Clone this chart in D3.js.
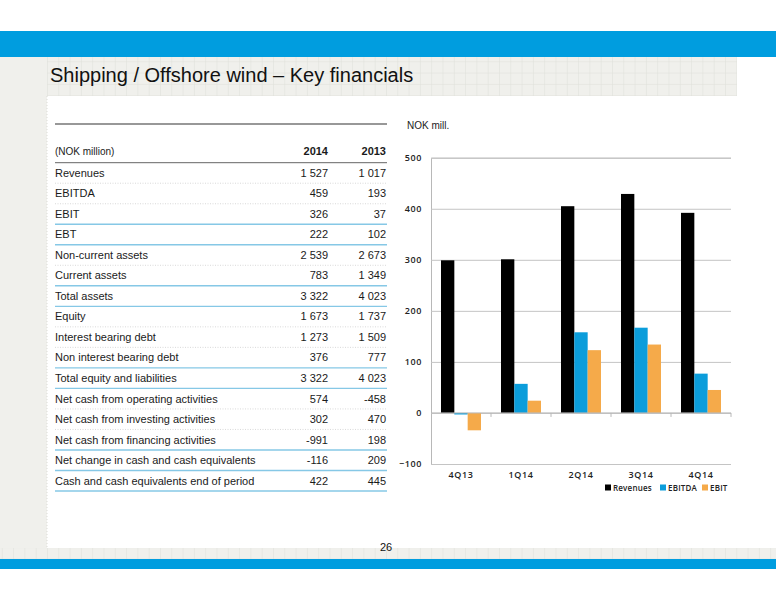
<!DOCTYPE html>
<html lang="en">
<head>
    <meta charset="UTF-8">
    <script src="https://cdn.jsdelivr.net/npm/d3@7"></script>
    <title>Shipping / Offshore wind - Key financials</title>
    <style>
        body {
            margin: 0;
            padding: 0;
            background: white;
            font-family: "Liberation Sans", Arial, sans-serif;
        }
        svg { display: block; }
        .tbl text { fill: #1a1a1a; font-size: 11px; }
        .chart text { font-family: "Open Sans", sans-serif; font-size: 9px; font-weight: 600; fill: #222; }
    </style>
</head>

<body>
    <div id="page"></div>

    <script>
        // ---- table data ----
        const rowLabels = [
            "Revenues", "EBITDA", "EBIT", "EBT",
            "Non-current assets", "Current assets", "Total assets",
            "Equity", "Interest bearing debt", "Non interest bearing debt",
            "Total equity and liabilities",
            "Net cash from operating activities", "Net cash from investing activities",
            "Net cash from financing activities",
            "Net change in cash and cash equivalents", "Cash and cash equivalents end of period"
        ];
        const values2014 = [1527, 459, 326, 222, 2539, 783, 3322, 1673, 1273, 376, 3322, 574, 302, -991, -116, 422];
        const values2013 = [1017, 193, 37, 102, 2673, 1349, 4023, 1737, 1509, 777, 4023, -458, 470, 198, 209, 445];
        // rows sharing a group id are split by dotted lines, groups by blue lines
        const rowGroups = [0, 0, 0, 1, 2, 2, 3, 4, 4, 4, 5, 6, 6, 6, 7, 8];
        const yearHeaders = ["2014", "2013"];

        // ---- chart data ----
        const categories = ["4Q13", "1Q14", "2Q14", "3Q14", "4Q14"];
        const seriesNames = ["Revenues", "EBITDA", "EBIT"];
        const revenues = [299, 301, 405, 429, 392];
        const ebitda = [-3, 57, 158, 167, 77];
        const ebit = [-34, 24, 123, 134, 45];
        const yTicks = [-100, 0, 100, 200, 300, 400, 500];
        const seriesColors = ["#000000", "#0b9ddb", "#f5aa4a"];

        const W = 776, H = 600;
        const svg = d3.select("#page").append("svg")
            .attr("width", W)
            .attr("height", H);

        // ---- slide frame ----
        const defs = svg.append("defs");
        const grid = defs.append("pattern")
            .attr("id", "grid")
            .attr("patternUnits", "userSpaceOnUse")
            .attr("x", 47).attr("y", 50)
            .attr("width", 11.3).attr("height", 11.3);
        grid.append("rect").attr("width", 11.3).attr("height", 11.3).attr("fill", "#f0f0ec");
        grid.append("path").attr("d", "M0,0H11.3M0,0V11.3")
            .attr("stroke", "#dedfd9").attr("stroke-width", 1).attr("fill", "none");

        svg.append("rect").attr("x", 0).attr("y", 57).attr("width", 47).attr("height", 491).attr("fill", "#f0f0ec");
        svg.append("line").attr("x1", 47).attr("x2", 47).attr("y1", 96).attr("y2", 548)
            .attr("stroke", "#dcdcd6").attr("stroke-dasharray", "1,2");
        svg.append("rect").attr("x", 47).attr("y", 57).attr("width", 690).attr("height", 39).attr("fill", "url(#grid)");
        svg.append("rect").attr("x", 0).attr("y", 548).attr("width", W).attr("height", 11).attr("fill", "url(#grid)");
        svg.append("rect").attr("x", 0).attr("y", 31).attr("width", W).attr("height", 26).attr("fill", "#009ddf");
        svg.append("rect").attr("x", 0).attr("y", 559).attr("width", W).attr("height", 10).attr("fill", "#009ddf");

        svg.append("text")
            .attr("x", 50).attr("y", 82)
            .style("font-size", "20px")
            .style("fill", "#111")
            .text("Shipping / Offshore wind \u2013 Key financials");

        svg.append("text")
            .attr("x", 386).attr("y", 551)
            .attr("text-anchor", "middle")
            .style("font-size", "11px")
            .style("fill", "#111")
            .text("26");

        // ---- table ----
        const fmt = d3.formatLocale({ decimal: ",", thousands: " ", grouping: [3], currency: ["", ""], minus: "-" }).format(",d");
        const tbl = svg.append("g").attr("class", "tbl");
        const tx0 = 55, tx1 = 387;
        const colX = d3.scaleOrdinal().domain(yearHeaders).range([328, 386]);
        const rowY = d3.scaleBand().domain(d3.range(rowLabels.length)).range([162.7, 491]);

        tbl.append("line").attr("x1", tx0).attr("x2", tx1).attr("y1", 124).attr("y2", 124)
            .attr("stroke", "#333").attr("stroke-width", 1.2);
        tbl.append("text").attr("x", tx0).attr("y", 155).style("font-size", "10px").text("(NOK million)");
        tbl.selectAll(".yr").data(yearHeaders).enter().append("text")
            .attr("class", "yr")
            .attr("x", d => colX(d)).attr("y", 155)
            .attr("text-anchor", "end")
            .style("font-weight", "bold")
            .text(d => d);
        tbl.append("line").attr("x1", tx0).attr("x2", tx1).attr("y1", 162.7).attr("y2", 162.7)
            .attr("stroke", "#666").attr("stroke-width", 1);

        const rows = tbl.selectAll(".row").data(rowLabels).enter().append("g")
            .attr("class", "row")
            .attr("transform", (d, i) => `translate(0,${rowY(i)})`);
        const mid = rowY.bandwidth() / 2;
        rows.append("text").attr("x", tx0).attr("y", mid).attr("dy", "0.35em").text(d => d);
        rows.append("text").attr("x", colX("2014")).attr("y", mid).attr("dy", "0.35em")
            .attr("text-anchor", "end").text((d, i) => fmt(values2014[i]));
        rows.append("text").attr("x", colX("2013")).attr("y", mid).attr("dy", "0.35em")
            .attr("text-anchor", "end").text((d, i) => fmt(values2013[i]));
        rows.append("line")
            .attr("x1", tx0).attr("x2", tx1)
            .attr("y1", rowY.bandwidth()).attr("y2", rowY.bandwidth())
            .each(function (d, i) {
                const last = i === rowGroups.length - 1 || rowGroups[i + 1] !== rowGroups[i];
                d3.select(this)
                    .attr("stroke", last ? "#86c8e6" : "#cfcfcf")
                    .attr("stroke-width", last ? 1.4 : 0.8)
                    .attr("stroke-dasharray", last ? null : "1,1.5");
            });

        // ---- bar chart ----
        const chart = svg.append("g").attr("class", "chart");
        const x = d3.scaleBand().domain(categories).range([431, 731]).paddingInner(1 / 3).paddingOuter(1 / 6);
        const xs = d3.scaleBand().domain(seriesNames).range([0, x.bandwidth()]);
        const y = d3.scaleLinear().domain([-100, 500]).range([464, 157.7]);
        const color = d3.scaleOrdinal().domain(seriesNames).range(seriesColors);

        chart.append("text")
            .attr("x", 407).attr("y", 129)
            .style("font-family", "'Liberation Sans', Arial, sans-serif")
            .style("font-weight", "normal")
            .style("font-size", "10px")
            .text("NOK mill.");

        const yAxis = chart.append("g")
            .attr("transform", "translate(431,0)")
            .call(d3.axisLeft(y).tickValues(yTicks).tickSize(-300).tickPadding(9).tickFormat(d3.format("d")));
        yAxis.select(".domain").attr("stroke", "#b8b8b8");
        yAxis.selectAll(".tick line").attr("stroke", "#c4c4c4");
        yAxis.selectAll(".tick text").style("letter-spacing", "0.6px");

        const xAxis = chart.append("g")
            .attr("transform", "translate(0,464)")
            .call(d3.axisBottom(x).tickSize(0).tickPadding(8));
        xAxis.select(".domain").remove();
        xAxis.selectAll(".tick text").style("letter-spacing", "0.6px");

        const seriesData = categories.map((c, i) => ({ cat: c, vals: [revenues[i], ebitda[i], ebit[i]] }));
        const groups = chart.selectAll(".cat").data(seriesData).enter().append("g")
            .attr("class", "cat")
            .attr("transform", d => `translate(${x(d.cat)},0)`);
        groups.selectAll("rect")
            .data(d => d.vals.map((v, k) => ({ name: seriesNames[k], v })))
            .enter().append("rect")
            .attr("x", d => xs(d.name))
            .attr("width", xs.bandwidth())
            .attr("y", d => y(Math.max(0, d.v)))
            .attr("height", d => Math.abs(y(d.v) - y(0)))
            .attr("fill", d => color(d.name));

        // zero axis with ticks between categories
        chart.append("line")
            .attr("x1", 431).attr("x2", 731).attr("y1", y(0)).attr("y2", y(0))
            .attr("stroke", "#b8b8b8");
        const bounds = categories.map(c => x(c) + x.bandwidth() + x.step() * x.paddingInner() / 2);
        chart.selectAll(".xtick").data(bounds).enter().append("line")
            .attr("class", "xtick")
            .attr("x1", d => d).attr("x2", d => d)
            .attr("y1", y(0)).attr("y2", y(0) + 4)
            .attr("stroke", "#b8b8b8");

        // legend
        const legendX = [605, 660, 702];
        const legend = chart.selectAll(".lg").data(seriesNames).enter().append("g")
            .attr("class", "lg")
            .attr("transform", (d, i) => `translate(${legendX[i]},484.5)`);
        legend.append("rect").attr("width", 6).attr("height", 6).attr("fill", d => color(d));
        legend.append("text").attr("x", 8).attr("y", 6.3)
            .style("font-size", "8px")
            .style("letter-spacing", "0.2px")
            .text(d => d);
    </script>
</body>
</html>
